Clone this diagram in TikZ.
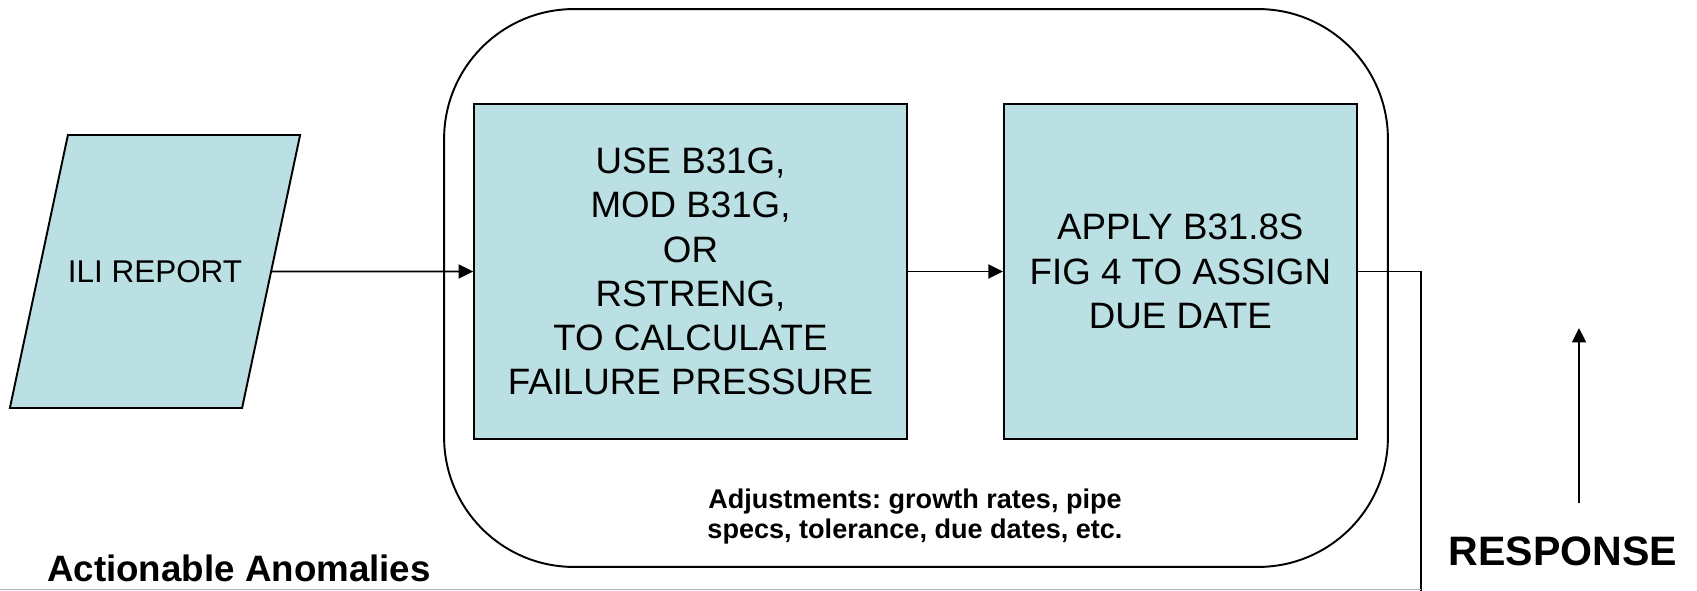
\documentclass[tikz,border=0pt]{standalone}
\usepackage{fontspec}
\setmainfont{Liberation Sans}
\usetikzlibrary{shapes.geometric, arrows.meta, positioning}
\definecolor{boxfill}{RGB}{187,224,227}

\begin{document}
\frenchspacing
\begin{tikzpicture}[x=0.02cm, y=-0.02cm, line width=1.1pt,
                    every node/.style={inner sep=0pt},
                    calc box/.style={draw, fill=boxfill, align=center, minimum height=6.7cm,
                                     font=\fontsize{20.9}{25.2}\selectfont},
                    flow/.style={-{Triangle[length=0.29cm, width=0.28cm]}}]
                    \useasboundingbox (0,0) rectangle (1697,591);
                    % outer frame
                    \node[draw, rounded corners=2.6cm, minimum width=18.88cm,
                          minimum height=11.16cm] (frame) at (916,288) {};
                    \node[trapezium, draw, fill=boxfill, trapezium left angle=78,
                          trapezium right angle=102, inner xsep=0pt, inner ysep=2.505cm,
                          text height=0.45cm, text depth=0pt,
                          font=\fontsize{17.9}{21}\selectfont] (report) at (155,271.5) {ILI REPORT};
                    \node[calc box, minimum width=8.66cm] (calc) at (690.5,271.5)
                        {USE B31G,\\MOD B31G,\\OR\\RSTRENG,\\TO CALCULATE\\FAILURE PRESSURE};
                    \node[calc box, minimum width=7.06cm, right=1.9cm of calc] (assign)
                        {APPLY B31.8S\\FIG 4 TO ASSIGN\\DUE DATE};
                    \node[align=center, font=\bfseries\fontsize{15.4}{17.6}\selectfont] (adjust) at (915,516.5)
                        {Adjustments: growth rates, pipe\\specs, tolerance, due dates, etc.};
                    \node[font=\bfseries\fontsize{20.9}{25}\selectfont] (anomalies) at (239,568.5) {Actionable Anomalies};
                    \node[font=\bfseries\fontsize{23.4}{28}\selectfont] (response) at (1563,551.5) {RESPONSE};
                    \coordinate (exit) at (1421,591);
                    \coordinate (rbase) at (1579,503);
                    \coordinate (rtip) at (1579,328);
                    \draw[flow] (report) -- (calc);
                    \draw[flow] (calc) -- (assign);
                    \draw (assign.east) -| (exit);
                    \draw[flow] (rbase) -- (rtip);
                    \draw[line width=0.6pt, black!30] (0,589.5) -- (exit |- 0,589.5);
                \end{tikzpicture}
\end{document}
